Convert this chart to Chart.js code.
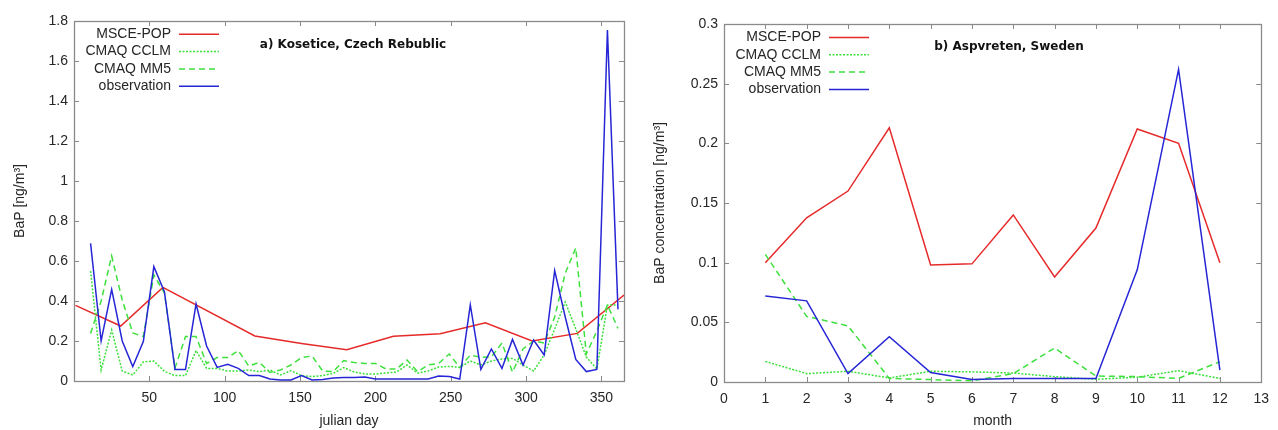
<!DOCTYPE html>
<html>
<head>
<meta charset="utf-8">
<script src="https://cdn.jsdelivr.net/npm/chart.js@4/dist/chart.umd.min.js"></script>
<style>
  body { margin: 0; background: #fff; }
  canvas { position: absolute; top: 0; }
  #left { left: 0; }
  #right { left: 639px; }
</style>
</head>
<body>
<canvas id="left" width="639" height="430"></canvas>
<canvas id="right" width="639" height="430"></canvas>
<script>
// --- a) Kosetice: julian day ---
const weekDays = [11, 18, 25, 32, 39, 46, 53, 60, 67, 74, 81, 88, 95, 102, 109, 116, 123, 130, 137, 144,
  151, 158, 165, 172, 179, 186, 193, 200, 207, 214, 221, 228, 235, 242, 249, 256, 263, 270, 277, 284,
  291, 298, 305, 312, 319, 326, 333, 340, 347, 354, 361];
const msceDays = [1, 31, 59, 120, 151, 181, 212, 243, 273, 304, 334, 365];
const msceA = [0.378, 0.275, 0.468, 0.225, 0.188, 0.156, 0.224, 0.236, 0.291, 0.2, 0.238, 0.43];
const cclmA = [0.55, 0.055, 0.255, 0.05, 0.03, 0.095, 0.1, 0.048, 0.027, 0.027, 0.152, 0.063, 0.063, 0.05,
  0.05, 0.055, 0.047, 0.055, 0.03, 0.052, 0.027, 0.022, 0.027, 0.038, 0.067, 0.045, 0.035, 0.035, 0.04,
  0.045, 0.08, 0.04, 0.05, 0.07, 0.073, 0.068, 0.1, 0.08, 0.1, 0.11, 0.113, 0.08, 0.05, 0.13, 0.26,
  0.395, 0.26, 0.12, 0.06, 0.38, 0.38];
const mm5A = [0.238, 0.4, 0.625, 0.405, 0.24, 0.222, 0.53, 0.44, 0.065, 0.222, 0.222, 0.088, 0.117, 0.117,
  0.152, 0.075, 0.093, 0.043, 0.055, 0.08, 0.117, 0.125, 0.05, 0.047, 0.102, 0.092, 0.088, 0.088, 0.06,
  0.06, 0.105, 0.047, 0.08, 0.088, 0.135, 0.068, 0.13, 0.118, 0.12, 0.19, 0.045, 0.16, 0.2, 0.19, 0.32,
  0.538, 0.665, 0.135, 0.25, 0.38, 0.263];
const obsA = [0.688, 0.2, 0.458, 0.2, 0.072, 0.197, 0.572, 0.447, 0.058, 0.058, 0.385, 0.175, 0.068, 0.083,
  0.063, 0.027, 0.027, 0.01, 0.005, 0.005, 0.027, 0.005, 0.008, 0.015, 0.018, 0.018, 0.02, 0.01, 0.01,
  0.01, 0.01, 0.01, 0.01, 0.025, 0.022, 0.01, 0.38, 0.058, 0.16, 0.063, 0.208, 0.08, 0.205, 0.13, 0.552,
  0.32, 0.108, 0.047, 0.058, 1.755, 0.358];
const xTicksA = [50, 100, 150, 200, 250, 300, 350];
const yTicksA = [0, 0.2, 0.4, 0.6, 0.8, 1, 1.2, 1.4, 1.6, 1.8];

// --- b) Aspvreten: month ---
const months = [1, 2, 3, 4, 5, 6, 7, 8, 9, 10, 11, 12];
const msceB = [0.1, 0.1376, 0.16, 0.213, 0.098, 0.099, 0.14, 0.088, 0.129, 0.212, 0.2, 0.1];
const cclmB = [0.0173, 0.007, 0.009, 0.0034, 0.009, 0.0085, 0.0075, 0.0045, 0.0023, 0.004, 0.0095, 0.003];
const mm5B = [0.107, 0.055, 0.047, 0.003, 0.002, 0.001, 0.007, 0.0285, 0.005, 0.0045, 0.003, 0.017];
const obsB = [0.072, 0.068, 0.007, 0.038, 0.008, 0.002, 0.003, 0.003, 0.003, 0.094, 0.262, 0.01];
const xTicksB = [0, 1, 2, 3, 4, 5, 6, 7, 8, 9, 10, 11, 12, 13];
const yTicksB = [0, 0.05, 0.1, 0.15, 0.2, 0.25, 0.3];

const FONT = "'Liberation Sans', Arial, sans-serif";
const TXT = '#262626';
const FRAME = '#8a8a8a';

function pts(xs, ys) {
  return xs.map((x, i) => ({ x: x, y: ys[i] }));
}
function fmt(v) {
  return String(Number(v.toFixed(4)));
}

// cadre, petites graduations vers l'intérieur, légende et titre
const panelPlugin = {
  id: 'panel',
  beforeDatasetsDraw(chart, args, opts) {
    const { ctx, chartArea: a, scales } = chart;
    ctx.save();
    ctx.strokeStyle = FRAME;
    ctx.lineWidth = 1;
    scales.x.ticks.forEach(t => {
      const px = Math.round(scales.x.getPixelForValue(t.value)) + 0.5;
      ctx.beginPath();
      ctx.moveTo(px, a.bottom); ctx.lineTo(px, a.bottom - 5);
      ctx.moveTo(px, a.top); ctx.lineTo(px, a.top + 5);
      ctx.stroke();
    });
    scales.y.ticks.forEach(t => {
      const py = Math.round(scales.y.getPixelForValue(t.value)) + 0.5;
      ctx.beginPath();
      ctx.moveTo(a.left, py); ctx.lineTo(a.left + 5, py);
      ctx.moveTo(a.right, py); ctx.lineTo(a.right - 5, py);
      ctx.stroke();
    });
    ctx.lineWidth = 1.3;
    ctx.strokeRect(Math.round(a.left) + 0.5, Math.round(a.top) + 0.5,
      Math.round(a.right - a.left), Math.round(a.bottom - a.top));
    ctx.restore();
  },
  afterDraw(chart, args, opts) {
    const ctx = chart.ctx;
    ctx.save();
    ctx.font = '14px ' + FONT;
    ctx.textAlign = 'right';
    ctx.textBaseline = 'middle';
    chart.data.datasets.forEach((ds, i) => {
      const y = opts.legendTop + i * 17.3;
      ctx.fillStyle = TXT;
      ctx.fillText(ds.label, opts.legendRight, y);
      ctx.strokeStyle = ds.borderColor;
      ctx.lineWidth = ds.borderWidth;
      ctx.setLineDash(ds.borderDash || []);
      ctx.beginPath();
      ctx.moveTo(opts.legendRight + 8, y);
      ctx.lineTo(opts.legendRight + 48, y);
      ctx.stroke();
    });
    ctx.setLineDash([]);
    ctx.font = 'bold 12px "DejaVu Sans", sans-serif';
    ctx.textAlign = 'center';
    ctx.fillStyle = '#111';
    ctx.fillText(opts.title, opts.titleX, opts.titleY);
    ctx.restore();
  }
};

function makeChart(id, cfg) {
  const datasets = [
    { label: 'MSCE-POP', data: cfg.msce, borderColor: '#e62a2a', borderWidth: 1.5, order: 4 },
    { label: 'CMAQ CCLM', data: cfg.cclm, borderColor: '#3ee03e', borderWidth: 1.5, borderDash: [2, 1.5], order: 3 },
    { label: 'CMAQ MM5', data: cfg.mm5, borderColor: '#3ee03e', borderWidth: 1.5, borderDash: [6, 4], order: 2 },
    { label: 'observation', data: cfg.obs, borderColor: '#2626d6', borderWidth: 1.5, order: 1 }
  ];
  const tickFont = { family: FONT, size: 14 };
  return new Chart(document.getElementById(id), {
    type: 'line',
    data: { datasets: datasets },
    options: {
      responsive: false,
      animation: false,
      devicePixelRatio: 1,
      elements: { point: { radius: 0 }, line: { tension: 0, fill: false } },
      layout: { padding: { top: cfg.top, right: cfg.right, left: 0, bottom: 0 } },
      plugins: {
        legend: { display: false },
        tooltip: { enabled: false },
        panel: cfg.panel
      },
      scales: {
        x: {
          type: 'linear', min: cfg.xMin, max: cfg.xMax,
          afterBuildTicks: s => { s.ticks = cfg.xTicks.map(v => ({ value: v })); },
          afterFit: s => { s.height = cfg.xH; },
          grid: { display: false, drawTicks: false },
          border: { display: false },
          ticks: { font: tickFont, color: TXT, padding: 9, maxRotation: 0, autoSkip: false, callback: v => fmt(v) },
          title: { display: true, text: cfg.xTitle, font: tickFont, color: TXT, padding: { top: 0, bottom: 0 } }
        },
        y: {
          type: 'linear', min: 0, max: cfg.yMax,
          afterBuildTicks: s => { s.ticks = cfg.yTicks.map(v => ({ value: v })); },
          afterFit: s => { s.width = cfg.yW; },
          grid: { display: false, drawTicks: false },
          border: { display: false },
          ticks: { font: tickFont, color: TXT, padding: 6, autoSkip: false, callback: v => fmt(v) },
          title: { display: true, text: cfg.yTitle, font: tickFont, color: TXT, padding: { top: cfg.yTitlePad, bottom: 0 } }
        }
      }
    },
    plugins: [panelPlugin]
  });
}

makeChart('left', {
  msce: pts(msceDays, msceA), cclm: pts(weekDays, cclmA), mm5: pts(weekDays, mm5A), obs: pts(weekDays, obsA),
  xMin: 0, xMax: 365, yMax: 1.8, xTicks: xTicksA, yTicks: yTicksA,
  top: 21, right: 15, xH: 49, yW: 74, yTitlePad: 12,
  xTitle: 'julian day', yTitle: 'BaP [ng/m³]',
  panel: { legendRight: 171, legendTop: 34.3, title: 'a) Kosetice, Czech Rebublic', titleX: 353, titleY: 45 }
});

makeChart('right', {
  msce: pts(months, msceB), cclm: pts(months, cclmB), mm5: pts(months, mm5B), obs: pts(months, obsB),
  xMin: 0, xMax: 13, yMax: 0.3, xTicks: xTicksB, yTicks: yTicksB,
  top: 24, right: 12, xH: 48, yW: 85, yTitlePad: 13,
  xTitle: 'month', yTitle: 'BaP concentration [ng/m³]',
  panel: { legendRight: 182, legendTop: 37.5, title: 'b) Aspvreten, Sweden', titleX: 370, titleY: 46.5 }
});
</script>
</body>
</html>
